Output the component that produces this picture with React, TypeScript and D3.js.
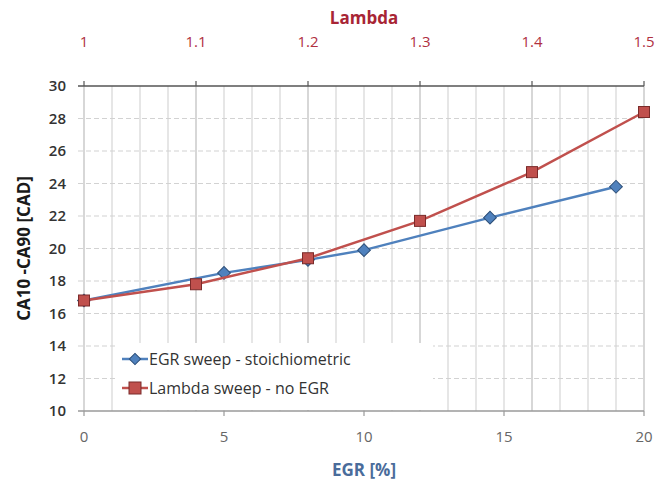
import React from 'react';
import * as d3 from 'd3';

const egrPct = [0, 5, 8, 10, 14.5, 19];
const egrBurn = [16.8, 18.5, 19.3, 19.9, 21.9, 23.8];
const lambdaVals = [1, 1.1, 1.2, 1.3, 1.4, 1.5];
const lambdaBurn = [16.8, 17.8, 19.4, 21.7, 24.7, 28.4];

const yTicks = [10, 12, 14, 16, 18, 20, 22, 24, 26, 28, 30];
const egrTicks = [0, 5, 10, 15, 20];
const lambdaTicks = ['1', '1.1', '1.2', '1.3', '1.4', '1.5'];

const W = 657;
const H = 490;
const left = 84, right = 644, top = 86, bottom = 411;
const font = "'Open Sans', 'DejaVu Sans', sans-serif";

export default function App() {
  const x = d3.scaleLinear().domain([0, 20]).range([left, right]);
  const xl = d3.scaleLinear().domain([1, 1.5]).range([left, right]);
  const y = d3.scaleLinear().domain([10, 30]).range([bottom, top]);

  const egrLine = d3.line<number>()
    .x((d, i) => x(egrPct[i]))
    .y(d => y(d));
  const lamLine = d3.line<number>()
    .x((d, i) => xl(lambdaVals[i]))
    .y(d => y(d));

  // one vertical grid line per EGR percent
  const minor = d3.range(0, 21);

  return (
    <svg width={W} height={H} style={{ display: 'block', position: 'absolute', left: 0, top: 0, background: '#fff' }}>
      {/* grid */}
      {minor.map(m => (
        <line key={'v' + m} x1={x(m)} x2={x(m)} y1={top} y2={bottom}
          stroke={m % 4 === 0 ? '#bcbcbc' : '#d6d6d6'} strokeWidth={1.2} />
      ))}
      {yTicks.filter(t => t !== 10 && t !== 30).map(t => (
        <line key={'h' + t} x1={left - 6} x2={right} y1={y(t)} y2={y(t)}
          stroke="#d2d2d2" strokeWidth={1.2} strokeDasharray="5 3" />
      ))}
      <line x1={left - 6} x2={right} y1={y(30)} y2={y(30)} stroke="#555" strokeWidth={1.6} />
      <line x1={left - 6} x2={right} y1={y(10)} y2={y(10)} stroke="#9a9a9a" strokeWidth={1.4} />
      {lambdaTicks.map(t => (
        <line key={'lt' + t} x1={xl(+t)} x2={xl(+t)} y1={top - 5} y2={top} stroke="#555" strokeWidth={1.2} />
      ))}
      {egrTicks.map(t => (
        <line key={'et' + t} x1={x(t)} x2={x(t)} y1={bottom} y2={bottom + 5} stroke="#999" strokeWidth={1.2} />
      ))}

      {/* y axis labels */}
      {yTicks.map(t => (
        <text key={'yl' + t} x={66} y={y(t)} dy="0.35em" textAnchor="end"
          fontFamily={font} fontSize={15} fontWeight={600} fill="#333">{t}</text>
      ))}
      <text transform={`translate(24,${(top + bottom) / 2}) rotate(-90)`} textAnchor="middle" dy="0.35em"
        fontFamily={font} fontSize={17} fontWeight={700} fill="#1a1a1a">CA10 -CA90 [CAD]</text>

      {/* top axis */}
      {lambdaTicks.map(t => (
        <text key={'tl' + t} x={xl(+t)} y={47} textAnchor="middle"
          fontFamily={font} fontSize={15} fill="#b0303f">{t}</text>
      ))}
      <text x={(left + right) / 2} y={24} textAnchor="middle"
        fontFamily={font} fontSize={17} fontWeight={700} fill="#a82535">Lambda</text>

      {/* bottom axis */}
      {egrTicks.map(t => (
        <text key={'bl' + t} x={x(t)} y={442} textAnchor="middle"
          fontFamily={font} fontSize={15} fill="#666">{t}</text>
      ))}
      <text x={(left + right) / 2} y={476} textAnchor="middle"
        fontFamily={font} fontSize={17} fontWeight={700} fill="#4a6c9b">EGR [%]</text>

      {/* series */}
      <path d={egrLine(egrBurn) || ''} fill="none" stroke="#4f81bd" strokeWidth={2.5} />
      {egrBurn.map((v, i) => (
        <rect key={'ed' + i} x={x(egrPct[i]) - 4.5} y={y(v) - 4.5} width={9} height={9}
          transform={`rotate(45,${x(egrPct[i])},${y(v)})`} fill="#4f81bd" stroke="#2d4f78" strokeWidth={1} />
      ))}
      <path d={lamLine(lambdaBurn) || ''} fill="none" stroke="#c0504d" strokeWidth={2.5} />
      {lambdaBurn.map((v, i) => (
        <rect key={'ls' + i} x={xl(lambdaVals[i]) - 5.5} y={y(v) - 5.5} width={11} height={11}
          fill="#c0504d" stroke="#7a2b2a" strokeWidth={1} />
      ))}

      {/* legend */}
      <rect x={115} y={343} width={318} height={67} fill="#fff" />
      <line x1={122} x2={148} y1={359} y2={359} stroke="#4f81bd" strokeWidth={2.5} />
      <rect x={131} y={355} width={8} height={8} transform="rotate(45,135,359)" fill="#4f81bd" stroke="#2d4f78" />
      <text x={149} y={359} dy="0.35em" fontFamily={font} fontSize={16} fill="#333">EGR sweep - stoichiometric</text>
      <line x1={122} x2={148} y1={388} y2={388} stroke="#c0504d" strokeWidth={2.5} />
      <rect x={129} y={382} width={12} height={12} fill="#c0504d" stroke="#7a2b2a" />
      <text x={149} y={388} dy="0.35em" fontFamily={font} fontSize={16} fill="#333">Lambda sweep - no EGR</text>
    </svg>
  );
}
